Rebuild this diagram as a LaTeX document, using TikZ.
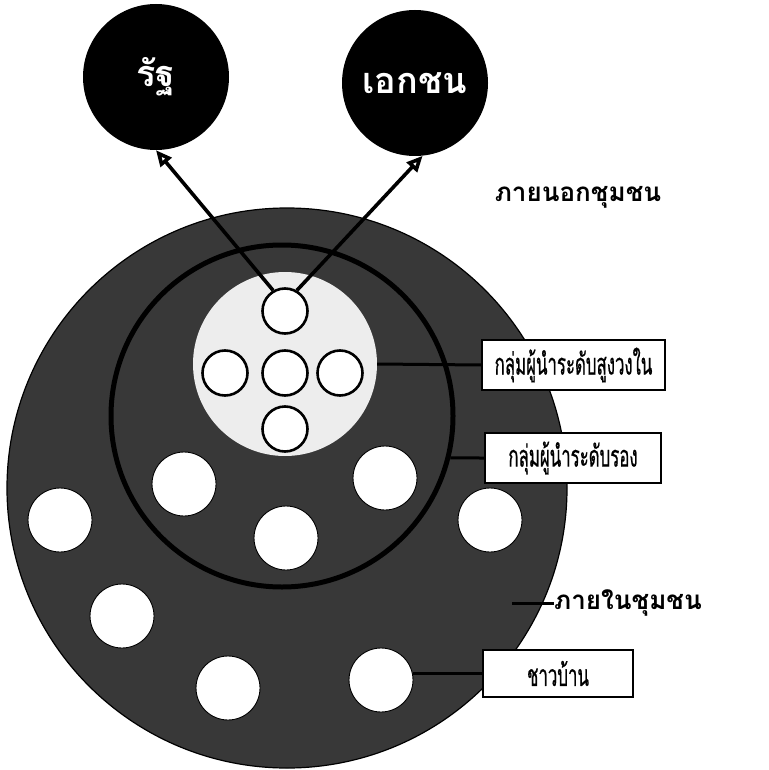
\documentclass[tikz,border=0pt]{standalone}
\usepackage{fontspec}
\newfontfamily\thai[Script=Thai,FakeStretch=0.56,FakeBold=0.6]{Loma}
\newfontfamily\thaiwide[Script=Thai]{Loma}
\usetikzlibrary{arrows.meta}
\begin{document}
\begin{tikzpicture}[x=1pt,y=-1pt,
  dot/.style={circle,draw=black,line width=2.6pt,fill=white,minimum size=45pt,inner sep=0pt},
  bigdot/.style={circle,draw=black,line width=0.9pt,fill=white,minimum size=64pt,inner sep=0pt},
  blackball/.style={circle,fill=black,minimum size=146pt,inner sep=0pt,text=white,font=\thaiwide\bfseries\fontsize{36}{38}\selectfont},
  labelbox/.style={draw=black,line width=1.4pt,fill=white,inner sep=0pt,font=\thai\fontsize{30}{32}\selectfont},
  plain/.style={font=\thaiwide\bfseries\fontsize{26}{28}\selectfont,inner sep=0pt},
  conn/.style={line width=3pt},
  arr/.style={line width=3.6pt,-{Triangle[open,length=16pt,width=14pt]}}]
\useasboundingbox (0,0) rectangle (768,770);
% outer community
\node[circle,draw=black,line width=1.2pt,fill=black!78,minimum size=560pt,inner sep=0pt] (outer) at (287,488) {};
% ring of second-level leaders
\node[circle,draw=black,line width=5pt,minimum size=342pt,inner sep=0pt] (ring) at (282,416) {};
% inner light circle
\node[circle,fill=black!7,minimum size=184pt,inner sep=0pt] (inner) at (285,364) {};
% small circles
\node[dot] (s1) at (285,311) {};
\node[dot] (s2) at (225,373) {};
\node[dot] (s3) at (285,373) {};
\node[dot] (s4) at (340,373) {};
\node[dot] (s5) at (285,429) {};
% medium circles
\node[bigdot] (m1) at (184,484) {};
\node[bigdot] (m2) at (286,538) {};
\node[bigdot] (m3) at (385,478) {};
\node[bigdot] (m4) at (60,520) {};
\node[bigdot] (m5) at (490,520) {};
\node[bigdot] (m6) at (122,616) {};
\node[bigdot] (m7) at (228,688) {};
\node[bigdot] (m8) at (381,680) {};
% outside actors
\node[blackball] (A) at (156,77) {รัฐ};
\node[blackball] (B) at (415,83) {เอกชน};
\draw[arr] (s1.120) -- (A.-90);
\draw[arr] (s1.60) -- (B.-84);
% labels
\node[plain] (outlab) at (578,197) {ภายนอกชุมชน};
\node[labelbox,minimum width=183pt,minimum height=50pt] (box1) at (573.5,365) {กลุ่มผู้นำระดับสูงวงใน};
\node[labelbox,minimum width=176pt,minimum height=50pt] (box2) at (573,458) {กลุ่มผู้นำระดับรอง};
\node[labelbox,minimum width=150pt,minimum height=47pt] (box3) at (558,673.5) {ชาวบ้าน};
\node[plain,anchor=west] (inlab) at (554,603) {ภายในชุมชน};
\coordinate (inpt) at (512,603);
\draw[conn] (inner.east) -- (box1.west);
\draw[conn] (ring.-14) -- (box2.west);
\draw[conn] (inpt) -- (inlab.west);
\draw[conn] (box3.west -| m8.east) -- (box3.west);
\end{tikzpicture}
\end{document}
